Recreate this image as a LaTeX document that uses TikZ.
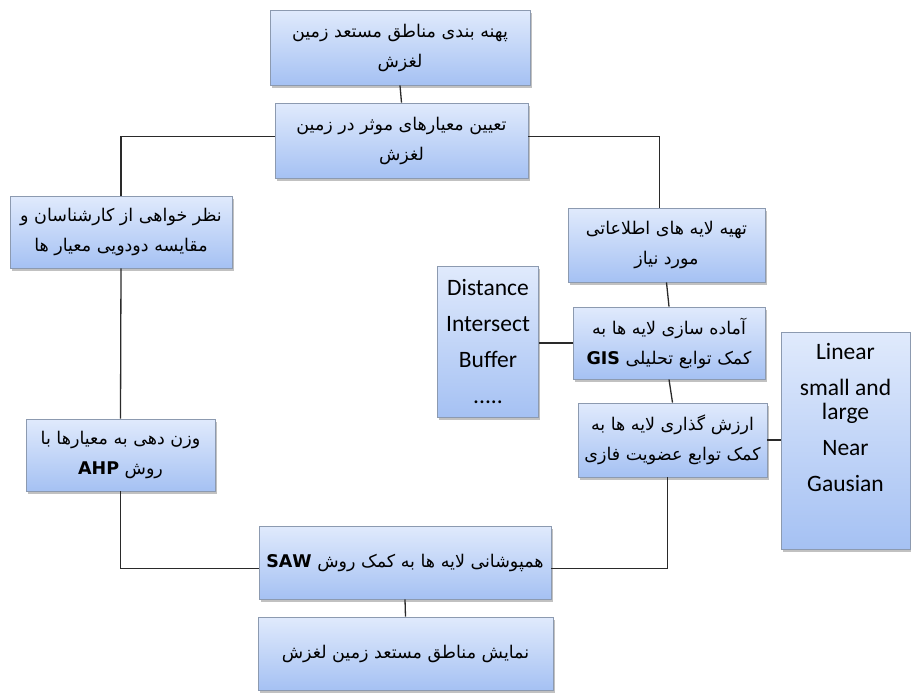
\documentclass[tikz,border=0pt]{standalone}
\usepackage{fontspec}
\setmainfont{Carlito}
\newfontfamily\arabicfont[Script=Arabic]{DejaVu Sans}
\TeXXeTstate=1
\usetikzlibrary{shadows}
\definecolor{boxtop}{HTML}{E0EAFC}
\definecolor{boxbot}{HTML}{A5C1F3}
\definecolor{boxline}{HTML}{8C9AB0}
\definecolor{conn}{HTML}{2A2A2A}
\newcommand{\faline}[1]{{\arabicfont\beginR #1\endR}}
\newcommand{\lat}[1]{\beginL{\bfseries #1}\endL}
\begin{document}
\begin{tikzpicture}[x=1pt,y=-1pt,
  box/.style={draw=boxline, line width=0.9pt, top color=boxtop, bottom color=boxbot,
    drop shadow={shadow xshift=1.5pt, shadow yshift=-2.5pt, opacity=0.35, fill=black!70},
    align=center, inner sep=2pt, font=\fontsize{17.5}{30}\selectfont},
  latbox/.style={box, font=\fontsize{23.5}{36}\selectfont},
  conn/.style={draw=conn, line width=1.3pt}]
\useasboundingbox (0,0) rectangle (911,694);
\node[box, minimum width=260pt, minimum height=75pt] (n1) at (400,47.5)
  {\faline{پهنه بندی  مناطق مستعد زمین}\\\faline{لغزش}};
\node[box, minimum width=253pt, minimum height=75pt] (n2) at (401.5,140.5)
  {\faline{تعیین معیارهای موثر در زمین}\\\faline{لغزش}};
\node[box, minimum width=222pt, minimum height=72pt] (n3) at (121,232)
  {\faline{نظر خواهی از کارشناسان  و}\\\faline{مقایسه دودویی معیار ها}};
\node[box, minimum width=197pt, minimum height=74pt] (n4) at (666.5,245)
  {\faline{تهیه لایه های اطلاعاتی}\\\faline{مورد نیاز}};
\node[latbox, minimum width=101pt, minimum height=151pt] (n5) at (488,341.5)
  {Distance\\Intersect\\Buffer\\.....};
\node[box, minimum width=192pt, minimum height=72pt] (n6) at (669,343)
  {\faline{آماده سازی لایه ها به}\\\faline{کمک توابع تحلیلی \lat{GIS}}};
\node[box, minimum width=189pt, minimum height=74pt] (n7) at (672.5,440)
  {\faline{ارزش گذاری لایه ها به}\\\faline{کمک توابع عضویت فازی}};
\node[latbox, font=\fontsize{23.5}{24}\selectfont, minimum width=129pt, minimum height=217pt] (n8) at (845.5,440.5)
  {Linear\\[12pt]small and\\large\\[12pt]Near\\[12pt]Gausian\\[14pt]\strut};
\node[box, minimum width=189pt, minimum height=72pt] (n9) at (120.5,455)
  {\faline{وزن دهی به معیارها با}\\\faline{روش \lat{AHP}}};
\node[box, minimum width=292pt, minimum height=73pt] (n10) at (405,562.5)
  {\faline{همپوشانی لایه ها به  کمک روش \lat{SAW}}};
\node[box, minimum width=295pt, minimum height=73pt] (n11) at (405.5,653.5)
  {\faline{نمایش مناطق مستعد زمین لغزش}};
\draw[conn] (n1.south) -- (n2.north);
\draw[conn] ([yshift=4pt]n2.west) -| (n3.north);
\draw[conn] ([yshift=4pt]n2.east) -| ([xshift=-7pt]n4.north);
\draw[conn] (n3.south) -- (n9.north);
\draw[conn] (n4.south) -- (n6.north);
\draw[conn] (n6.south) -- (n7.north);
\draw[conn] (n6.west) -- (n6.west -| n5.east);
\draw[conn] (n7.east) -- (n7.east -| n8.west);
\draw[conn] (n9.south) |- ([yshift=-6pt]n10.west);
\draw[conn] ([xshift=-5pt]n7.south) |- ([yshift=-6pt]n10.east);
\draw[conn] (n10.south) -- (n11.north);
\end{tikzpicture}
\end{document}
